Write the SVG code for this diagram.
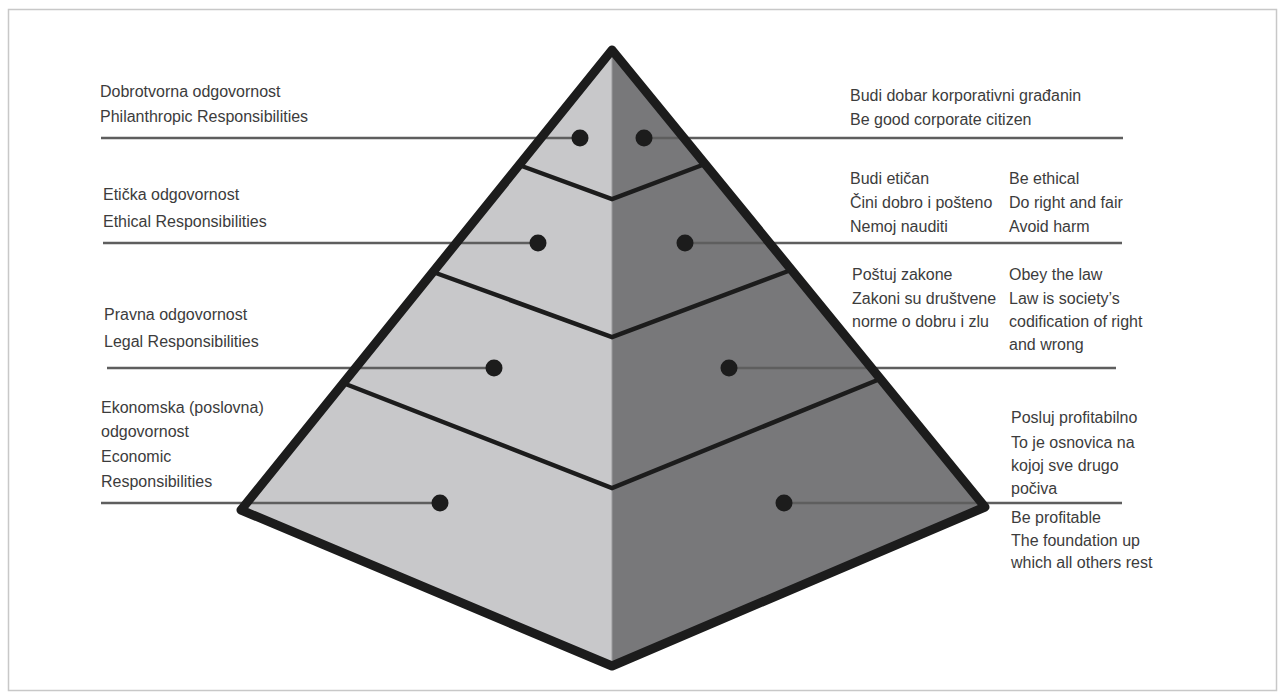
<svg xmlns="http://www.w3.org/2000/svg" width="1279" height="693" viewBox="0 0 1279 693">
<style>
  .t{font-family:"Liberation Sans",Arial,sans-serif;font-size:16px;fill:#3c3c3c}
  .ln{stroke:#5e5e5e;stroke-width:2.5;fill:none}
  .dot{fill:#1c1c1c}
  .edge{stroke:#1c1c1c;stroke-width:9;fill:none;stroke-linejoin:round}
  .bd{stroke:#1c1c1c;stroke-width:4.5;fill:none;stroke-linejoin:miter}
</style>
<rect x="0" y="0" width="1279" height="693" fill="#ffffff"/>
<rect x="8.5" y="9.5" width="1268" height="681" fill="#ffffff" stroke="#c8c8c8" stroke-width="1.5"/>

<g id="pyramid">
  <polygon points="612,50 241,510 612,666" fill="#c8c8ca"/>
  <polygon points="612,50 985,507 612,666" fill="#78787a"/>
</g>

<g id="connectors">
  <line class="ln" x1="101" y1="138" x2="580" y2="138"/>
  <line class="ln" x1="644" y1="138" x2="1123" y2="138"/>
  <line class="ln" x1="103" y1="243" x2="538" y2="243"/>
  <line class="ln" x1="685" y1="243" x2="1122" y2="243"/>
  <line class="ln" x1="107" y1="368" x2="494" y2="368"/>
  <line class="ln" x1="729" y1="368" x2="1116" y2="368"/>
  <line class="ln" x1="101" y1="503" x2="440" y2="503"/>
  <line class="ln" x1="783" y1="503" x2="1122" y2="503"/>
</g>

<g id="pyramid-lines">
  <line x1="612" y1="50" x2="612" y2="666" stroke="#9a9a9c" stroke-width="1"/>
  <polyline class="bd" points="519,165 612,199 705,164"/>
  <polyline class="bd" points="433,272 612,337 791,270"/>
  <polyline class="bd" points="343,383 612,488 880,379"/>
  <polygon class="edge" points="612,50 985,507 612,666 241,510"/>
</g>

<g id="dots">
  <circle class="dot" cx="580" cy="138" r="8.5"/>
  <circle class="dot" cx="644" cy="138" r="8.5"/>
  <circle class="dot" cx="538" cy="243" r="8.5"/>
  <circle class="dot" cx="685" cy="243" r="8.5"/>
  <circle class="dot" cx="494" cy="368" r="8.5"/>
  <circle class="dot" cx="729" cy="368" r="8.5"/>
  <circle class="dot" cx="440" cy="503" r="8.5"/>
  <circle class="dot" cx="784" cy="503" r="8.5"/>
</g>

<g id="node-philanthropic">
  <text class="t" x="100" y="97">Dobrotvorna odgovornost</text>
  <text class="t" x="100" y="122">Philanthropic Responsibilities</text>
  <text class="t" x="850" y="101">Budi dobar korporativni građanin</text>
  <text class="t" x="850" y="125">Be good corporate citizen</text>
</g>

<g id="node-ethical">
  <text class="t" x="103" y="200">Etička odgovornost</text>
  <text class="t" x="103" y="227">Ethical Responsibilities</text>
  <text class="t" x="850" y="184">Budi etičan</text>
  <text class="t" x="850" y="208">Čini dobro i pošteno</text>
  <text class="t" x="850" y="232">Nemoj nauditi</text>
  <text class="t" x="1009" y="184">Be ethical</text>
  <text class="t" x="1009" y="208">Do right and fair</text>
  <text class="t" x="1009" y="232">Avoid harm</text>
</g>

<g id="node-legal">
  <text class="t" x="104" y="320">Pravna odgovornost</text>
  <text class="t" x="104" y="347">Legal Responsibilities</text>
  <text class="t" x="852" y="280">Poštuj zakone</text>
  <text class="t" x="852" y="304">Zakoni su društvene</text>
  <text class="t" x="852" y="327">norme o dobru i zlu</text>
  <text class="t" x="1009" y="280">Obey the law</text>
  <text class="t" x="1009" y="304">Law is society’s</text>
  <text class="t" x="1009" y="327">codification of right</text>
  <text class="t" x="1009" y="350">and wrong</text>
</g>

<g id="node-economic">
  <text class="t" x="101" y="413">Ekonomska (poslovna)</text>
  <text class="t" x="101" y="437">odgovornost</text>
  <text class="t" x="101" y="462">Economic</text>
  <text class="t" x="101" y="487">Responsibilities</text>
  <text class="t" x="1011" y="423">Posluj profitabilno</text>
  <text class="t" x="1011" y="448">To je osnovica na</text>
  <text class="t" x="1011" y="471">kojoj sve drugo</text>
  <text class="t" x="1011" y="494">počiva</text>
  <text class="t" x="1011" y="523">Be profitable</text>
  <text class="t" x="1011" y="546">The foundation up</text>
  <text class="t" x="1011" y="568">which all others rest</text>
</g>
</svg>
